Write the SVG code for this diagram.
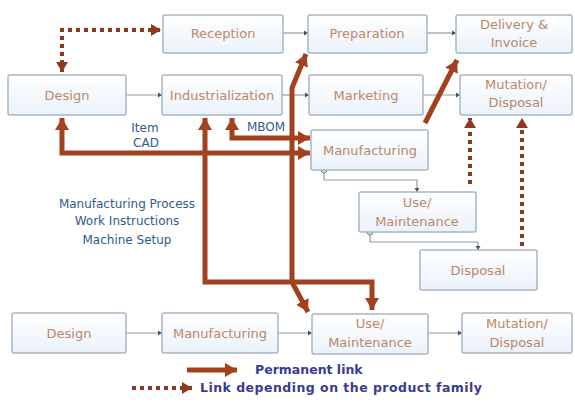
<svg xmlns="http://www.w3.org/2000/svg" width="575" height="405" viewBox="0 0 575 405">
<defs>
<linearGradient id="bg" x1="0" y1="0" x2="0" y2="1">
<stop offset="0" stop-color="#ffffff"/>
<stop offset="1" stop-color="#eaf2fa"/>
</linearGradient>
<marker id="ah" markerUnits="userSpaceOnUse" markerWidth="14" markerHeight="14" refX="12" refY="7" orient="auto-start-reverse">
<path d="M0,0 L12,7 L0,14 z" fill="#a1411d"/>
</marker>
<marker id="ahs" markerUnits="userSpaceOnUse" markerWidth="12" markerHeight="12" refX="10" refY="6" orient="auto-start-reverse">
<path d="M0,0 L10,6 L0,12 z" fill="#8e3a1e"/>
</marker>
<marker id="dot" markerUnits="userSpaceOnUse" markerWidth="6" markerHeight="6" refX="4" refY="3" orient="auto">
<path d="M0,0.5 L4,3 L0,5.5 z" fill="#4a5560"/>
</marker>
</defs>
<style>
.box{fill:url(#bg);stroke:#a8b6c4;stroke-width:1.5}
.lbl{font-family:"DejaVu Sans",sans-serif;font-size:13px;fill:#bd8668;text-anchor:middle}
.blue{font-family:"DejaVu Sans",sans-serif;font-size:12px;fill:#2f5a8e;text-anchor:middle}
.thin{fill:none;stroke:#8e9aa6;stroke-width:1.2;marker-end:url(#dot)}
.thick{fill:none;stroke:#a1411d;stroke-width:5;stroke-linejoin:miter}
.dotted{fill:none;stroke:#8e3a1e;stroke-width:4;stroke-dasharray:4 4}
.leg{font-family:"DejaVu Sans",sans-serif;font-size:12.5px;font-weight:bold;fill:#3b3b8f}
.gc{fill:#c9dcc0;stroke:#6f9a6a;stroke-width:1}
</style>
<rect width="575" height="405" fill="#ffffff"/>

<g id="connectors">
<path class="thin" d="M283,33 H308"/>
<path class="thin" d="M427,33 H456"/>
<path class="thin" d="M126,95 H162"/>
<path class="thin" d="M282,95 H309"/>
<path class="thin" d="M423,95 H460"/>
<path class="thin" d="M324,170 V180 H417 V192"/>
<path class="thin" d="M370,232 V242 H478 V250"/>
<path class="thin" d="M126,333 H162"/>
<path class="thin" d="M278,333 H312"/>
<path class="thin" d="M428,333 H462"/>

<path class="thick" d="M62,118 V153 H310" marker-start="url(#ah)" marker-end="url(#ah)"/>
<path class="thick" d="M232,118 V138 H310" marker-start="url(#ah)" marker-end="url(#ah)"/>
<path class="thick" d="M205,118 V282 H372 V310" marker-start="url(#ah)" marker-end="url(#ah)"/>
<path class="thick" d="M306,54 L292,88 V282 L308,312" marker-start="url(#ah)" marker-end="url(#ah)"/>
<path class="thick" d="M425,123 L457,60" marker-end="url(#ah)"/>

<path class="dotted" d="M62,72 V30 H161" marker-start="url(#ahs)" marker-end="url(#ahs)"/>
<path class="dotted" d="M470,184 V118" marker-end="url(#ahs)"/>
<path class="dotted" d="M522,246 V118" marker-end="url(#ahs)"/>

<circle class="gc" cx="324" cy="170" r="3"/>
<circle class="gc" cx="370" cy="232" r="3"/>
</g>

<g id="reception"><rect class="box" x="163" y="15" width="120" height="38" rx="2"/><text class="lbl" x="223" y="38">Reception</text></g>
<g id="preparation"><rect class="box" x="308" y="15" width="119" height="38" rx="2"/><text class="lbl" x="367" y="38">Preparation</text></g>
<g id="delivery"><rect class="box" x="456" y="15" width="116" height="38" rx="2"/><text class="lbl" x="514" y="29">Delivery &amp;</text><text class="lbl" x="514" y="47">Invoice</text></g>
<g id="design"><rect class="box" x="8" y="75" width="118" height="40" rx="2"/><text class="lbl" x="67" y="100">Design</text></g>
<g id="industrialization"><rect class="box" x="162" y="75" width="120" height="40" rx="2"/><text class="lbl" x="222" y="100">Industrialization</text></g>
<g id="marketing"><rect class="box" x="309" y="75" width="114" height="40" rx="2"/><text class="lbl" x="366" y="100">Marketing</text></g>
<g id="mutation1"><rect class="box" x="460" y="75" width="112" height="40" rx="2"/><text class="lbl" x="516" y="89">Mutation/</text><text class="lbl" x="516" y="107">Disposal</text></g>
<g id="manufacturing1"><rect class="box" x="311" y="130" width="117" height="40" rx="2"/><text class="lbl" x="370" y="155">Manufacturing</text></g>
<g id="use1"><rect class="box" x="359" y="192" width="117" height="40" rx="2"/><text class="lbl" x="417" y="207">Use/</text><text class="lbl" x="417" y="226">Maintenance</text></g>
<g id="disposal"><rect class="box" x="420" y="250" width="117" height="40" rx="2"/><text class="lbl" x="478" y="275">Disposal</text></g>
<g id="design2"><rect class="box" x="12" y="313" width="114" height="40" rx="2"/><text class="lbl" x="69" y="338">Design</text></g>
<g id="manufacturing2"><rect class="box" x="162" y="313" width="116" height="40" rx="2"/><text class="lbl" x="220" y="338">Manufacturing</text></g>
<g id="use2"><rect class="box" x="312" y="314" width="116" height="40" rx="2"/><text class="lbl" x="370" y="328">Use/</text><text class="lbl" x="370" y="347">Maintenance</text></g>
<g id="mutation2"><rect class="box" x="462" y="313" width="110" height="40" rx="2"/><text class="lbl" x="517" y="328">Mutation/</text><text class="lbl" x="517" y="347">Disposal</text></g>

<g id="labels">
<text class="blue" x="145" y="132">Item</text>
<text class="blue" x="146" y="147">CAD</text>
<text class="blue" x="266" y="131">MBOM</text>
<text class="blue" x="127" y="208">Manufacturing Process</text>
<text class="blue" x="127" y="225">Work Instructions</text>
<text class="blue" x="127" y="244">Machine Setup</text>
</g>

<g id="legend">
<path class="thick" d="M187,370 H237" marker-end="url(#ah)"/>
<text class="leg" x="255" y="374">Permanent link</text>
<path class="dotted" d="M132,388 H192" marker-end="url(#ahs)"/>
<text class="leg" x="200" y="392" textLength="282" lengthAdjust="spacing">Link depending on the product family</text>
</g>
</svg>
